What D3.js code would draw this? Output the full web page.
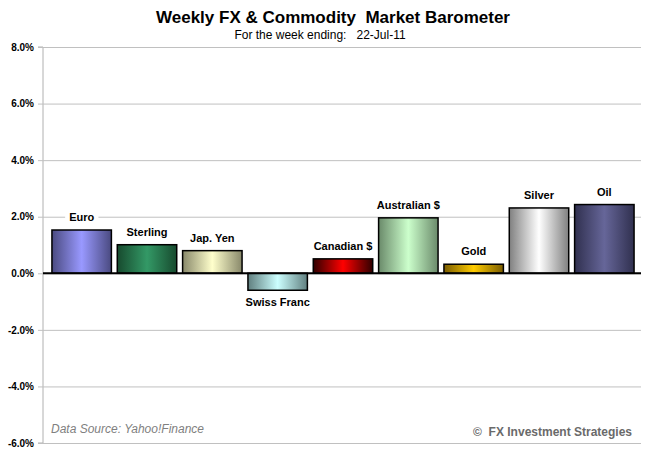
<!DOCTYPE html>
<html>
<head>
<meta charset="utf-8">
<script src="https://cdn.jsdelivr.net/npm/d3@7"></script>
<style>
  body { margin: 0; background: #fff; }
  svg text { font-family: "Liberation Sans", Arial, sans-serif; }
</style>
</head>
<body>
<div id="chart"></div>
<script>
// weekly % change
const categories = ["Euro", "Sterling", "Jap. Yen", "Swiss Franc", "Canadian $", "Australian $", "Gold", "Silver", "Oil"];
const changes = [1.53, 1.01, 0.80, -0.60, 0.51, 1.96, 0.32, 2.31, 2.43];
const yTicks = [8, 6, 4, 2, 0, -2, -4, -6];
// [edge, centre] colours of each bar's gradient
const barColors = [
  ["#4a4a80", "#9999ff"], ["#174a2e", "#339966"], ["#88886a", "#ffffcc"],
  ["#607f7f", "#ccffff"], ["#300000", "#ff0000"], ["#6a8a6a", "#ccffcc"],
  ["#7a5c00", "#ffcc00"], ["#808080", "#ffffff"], ["#30304f", "#666699"]
];

const width = 647, height = 458;
const plotL = 43, plotR = 641, plotT = 47, plotB = 443;

const svg = d3.select("#chart").append("svg")
  .attr("width", width).attr("height", height);

const x = d3.scaleBand().domain(categories)
  .range([49, 637]).paddingInner(0.09).paddingOuter(0.045);
const y = d3.scaleLinear().domain([-6, 8]).range([plotB, plotT]);

// gradients
const defs = svg.append("defs");
barColors.forEach((c, i) => {
  const g = defs.append("linearGradient").attr("id", "g" + i)
    .attr("x1", "0%").attr("x2", "100%").attr("y1", "0%").attr("y2", "0%");
  g.append("stop").attr("offset", "0%").attr("stop-color", c[0]);
  g.append("stop").attr("offset", "50%").attr("stop-color", c[1]);
  g.append("stop").attr("offset", "100%").attr("stop-color", c[0]);
});

// gridlines + y axis
const yAxis = d3.axisLeft(y).tickValues(yTicks)
  .tickSize(-(plotR - plotL)).tickPadding(9)
  .tickFormat(d => d.toFixed(1) + "%");
const ga = svg.append("g").attr("transform", `translate(${plotL},0)`).call(yAxis);
ga.select(".domain").attr("stroke", "#b0b0b0").attr("d", `M-5,${plotT}H0V${plotB}H-5`);
ga.selectAll(".tick line").attr("stroke", "#c0c0c0").attr("x1", -5);
ga.selectAll(".tick text").attr("font-size", 10).attr("font-weight", "bold").attr("fill", "#000");

// titles
svg.append("text").attr("x", 333).attr("y", 23).attr("text-anchor", "middle")
  .attr("font-size", 17).attr("font-weight", "bold").attr("xml:space", "preserve")
  .text("Weekly FX & Commodity  Market Barometer");
svg.append("text").attr("x", 320).attr("y", 39).attr("text-anchor", "middle")
  .attr("font-size", 12).attr("xml:space", "preserve")
  .text("For the week ending:   22-Jul-11");

// bars
svg.selectAll("rect.bar").data(changes).enter().append("rect")
  .attr("class", "bar")
  .attr("x", (d, i) => x(categories[i]))
  .attr("y", d => y(Math.max(0, d)))
  .attr("width", x.bandwidth())
  .attr("height", d => Math.abs(y(d) - y(0)))
  .attr("fill", (d, i) => `url(#g${i})`)
  .attr("stroke", "#000").attr("stroke-width", 1.5);

// zero line
svg.append("line").attr("x1", plotL).attr("x2", plotR)
  .attr("y1", y(0)).attr("y2", y(0)).attr("stroke", "#000").attr("stroke-width", 2);

// bar labels with white background
const lab = svg.selectAll("g.lab").data(changes).enter().append("g").attr("class", "lab");
lab.append("text")
  .attr("x", (d, i) => x(categories[i]) + x.bandwidth() / 2)
  .attr("y", d => d >= 0 ? y(d) - 9 : y(d) + 16)
  .attr("text-anchor", "middle").attr("font-size", 11).attr("font-weight", "bold")
  .text((d, i) => categories[i]);
lab.each(function() {
  const t = d3.select(this).select("text");
  const b = t.node().getBBox();
  d3.select(this).insert("rect", "text")
    .attr("x", b.x - 4).attr("y", b.y).attr("width", b.width + 8).attr("height", b.height)
    .attr("fill", "#fff");
});

// footer
svg.append("text").attr("x", 51).attr("y", 433).attr("font-size", 12)
  .attr("font-style", "italic").attr("fill", "#808080").text("Data Source: Yahoo!Finance");
svg.append("text").attr("x", 632).attr("y", 436).attr("text-anchor", "end")
  .attr("font-size", 12).attr("font-weight", "bold").attr("fill", "#6a6a6a")
  .attr("xml:space", "preserve")
  .text("©  FX Investment Strategies");
</script>
</body>
</html>
